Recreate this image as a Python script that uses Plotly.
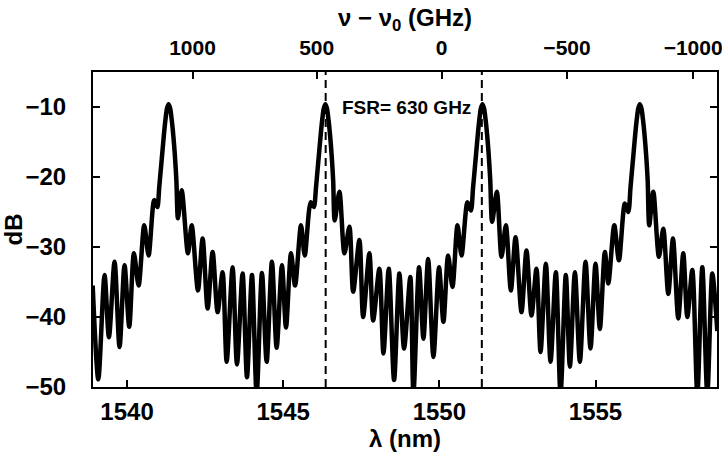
import plotly.graph_objects as go

# ---- data ----
LAMBDA_NM = [
    1538.90, 1539.08, 1539.28, 1539.42, 1539.60, 1539.76, 1539.92, 1540.07, 1540.22, 1540.37,
    1540.55, 1540.69, 1540.87, 1540.97,
    1541.03, 1541.08, 1541.13, 1541.18, 1541.23, 1541.28, 1541.33, 1541.38, 1541.43, 1541.48,
    1541.53, 1541.58, 1541.63,
    1541.75, 1541.95, 1542.07, 1542.27, 1542.42, 1542.58, 1542.74, 1542.90, 1543.06,
    1543.19, 1543.38, 1543.52, 1543.70, 1543.84, 1544.00, 1544.15, 1544.32, 1544.47, 1544.64,
    1544.79, 1544.96, 1545.09, 1545.25, 1545.38, 1545.57, 1545.69, 1545.88, 1545.98,
    1546.05, 1546.10, 1546.15, 1546.20, 1546.25, 1546.30, 1546.35, 1546.40, 1546.45, 1546.50,
    1546.55, 1546.60, 1546.65,
    1546.80, 1546.96, 1547.12, 1547.24, 1547.44, 1547.56, 1547.76, 1547.88, 1548.08,
    1548.21, 1548.38, 1548.55, 1548.72, 1548.87, 1549.07, 1549.17, 1549.35, 1549.49, 1549.64,
    1549.81, 1549.99, 1550.13, 1550.28, 1550.42, 1550.58, 1550.71, 1550.90, 1551.01,
    1551.08, 1551.13, 1551.18, 1551.23, 1551.28, 1551.33, 1551.38, 1551.43, 1551.48, 1551.53,
    1551.58, 1551.63, 1551.69,
    1551.84, 1551.99, 1552.13, 1552.29, 1552.44, 1552.63, 1552.79, 1552.95, 1553.11,
    1553.24, 1553.41, 1553.56, 1553.73, 1553.88, 1554.05, 1554.18, 1554.34, 1554.50, 1554.68,
    1554.84, 1555.00, 1555.14, 1555.30, 1555.41, 1555.60, 1555.75, 1555.94, 1556.05,
    1556.12, 1556.17, 1556.22, 1556.27, 1556.32, 1556.37, 1556.42, 1556.47, 1556.52, 1556.57,
    1556.62, 1556.67, 1556.72,
    1556.85, 1557.03, 1557.17, 1557.33, 1557.48, 1557.65, 1557.81, 1557.94, 1558.10,
    1558.26, 1558.42, 1558.58, 1558.74, 1558.90,
]
POWER_DB = [
    -35.5, -48.9, -34.0, -42.9, -32.1, -44.3, -32.6, -41.4, -30.9, -35.5,
    -26.9, -31.2, -23.3, -24.3,
    -21.5, -19.0, -16.5, -14.0, -11.8, -10.2, -9.6, -10.2, -11.8, -14.0,
    -16.8, -20.5, -25.9,
    -21.9, -30.9, -26.9, -36.2, -28.8, -38.8, -30.7, -39.3, -33.6,
    -46.4, -32.9, -46.8, -33.8, -48.6, -34.0, -51.0, -33.7, -46.4, -32.1,
    -44.4, -32.6, -41.5, -30.9, -35.5, -26.9, -31.2, -23.6, -24.3,
    -21.5, -19.0, -16.5, -14.0, -11.8, -10.2, -9.6, -10.2, -11.8, -14.0,
    -16.8, -20.5, -26.2,
    -22.1, -30.9, -27.1, -36.4, -29.0, -40.0, -30.9, -40.5, -33.1,
    -45.2, -33.1, -49.0, -33.8, -44.5, -34.3, -51.0, -32.9, -43.1, -31.7,
    -45.7, -32.9, -40.7, -31.2, -35.7, -26.9, -31.2, -23.6, -24.8,
    -21.5, -19.0, -16.5, -14.0, -11.8, -10.2, -9.6, -10.2, -11.8, -14.0,
    -16.8, -20.5, -26.4,
    -22.1, -31.4, -26.9, -36.2, -28.6, -39.3, -30.5, -39.8, -33.1,
    -45.0, -32.4, -46.4, -33.6, -51.0, -34.0, -47.1, -33.6, -46.4, -32.1,
    -44.5, -32.4, -41.7, -30.7, -35.2, -26.9, -31.9, -23.8, -25.0,
    -21.5, -19.0, -16.5, -14.0, -11.8, -10.2, -9.6, -10.2, -11.8, -14.0,
    -16.8, -20.5, -26.9,
    -22.1, -31.4, -27.4, -36.7, -28.8, -40.2, -30.9, -40.0, -33.3,
    -51.0, -32.9, -51.0, -33.8, -42.0,
]

X_TICKS = [1540, 1545, 1550, 1555]
Y_TICKS = [-10, -20, -30, -40, -50]
NU_TICKS_GHZ = [1000, 500, 0, -500, -1000]
NU_TICK_TEXT = ["1000", "500", "0", "\u2212500", "\u22121000"]
LAMBDA0_NM = 1550.07
FSR_MARKS_NM = [1546.36, 1551.36]
FSR_LABEL = "FSR= 630 GHz"
X_RANGE = [1538.91, 1558.89]
Y_RANGE = [-50, -5]

C_GHZ_NM = 299792.458e3  # speed of light in GHz*nm
nu0 = C_GHZ_NM / LAMBDA0_NM
nu_tick_lambda = [C_GHZ_NM / (nu0 + v) for v in NU_TICKS_GHZ]

FONT = "Liberation Sans, Arial, Helvetica, sans-serif"
fig = go.Figure()

fig.add_trace(go.Scatter(
    x=LAMBDA_NM, y=POWER_DB, mode="lines",
    line=dict(color="black", width=4.5, shape="spline", smoothing=0.8),
    hoverinfo="skip", showlegend=False, cliponaxis=True,
))
# invisible trace to attach the top (frequency) axis
fig.add_trace(go.Scatter(
    x=LAMBDA_NM, y=POWER_DB, xaxis="x2", mode="lines",
    line=dict(color="rgba(0,0,0,0)", width=0), hoverinfo="skip", showlegend=False,
))

for xm in FSR_MARKS_NM:
    fig.add_shape(type="line", xref="x", yref="paper", x0=xm, x1=xm, y0=0, y1=1,
                  line=dict(color="black", width=2, dash="8px,5px"))

fig.add_annotation(x=FSR_MARKS_NM[0] + 0.45, y=-10.0, xref="x", yref="y",
                   text=FSR_LABEL, showarrow=False, xanchor="left", yanchor="middle",
                   font=dict(family=FONT, size=19, color="black", weight="bold"))

tickfont = dict(family=FONT, size=24, color="black", weight="bold")
toptickfont = dict(family=FONT, size=21, color="black", weight="bold")
titlefont = dict(family=FONT, size=24, color="black", weight="bold")

fig.update_layout(
    width=722, height=452, autosize=False,
    margin=dict(l=93, r=5, t=72, b=65, autoexpand=False),
    paper_bgcolor="white", plot_bgcolor="white",
    xaxis=dict(range=X_RANGE, tickvals=X_TICKS, ticks="inside", ticklen=7, tickwidth=1.5,
               tickcolor="black", showline=True, linewidth=2, linecolor="black", mirror=True,
               showgrid=False, zeroline=False, tickfont=tickfont, ticklabelstandoff=2,
               automargin=False,
               title=dict(text="\u03bb (nm)", font=titlefont, standoff=0)),
    xaxis2=dict(range=X_RANGE, overlaying="x", side="top", tickvals=nu_tick_lambda,
                ticktext=NU_TICK_TEXT, ticks="inside", ticklen=7, tickwidth=1.5,
                tickcolor="black", showline=False, showgrid=False, zeroline=False,
                tickfont=toptickfont, ticklabelstandoff=12, ticklabeloverflow="allow",
                automargin=False,
                title=dict(text="\u03bd \u2212 \u03bd<sub>0</sub> (GHz)", font=titlefont, standoff=2)),
    yaxis=dict(range=Y_RANGE, tickvals=Y_TICKS, ticks="inside", ticklen=7, tickwidth=1.5,
               tickcolor="black", showline=True, linewidth=2, linecolor="black", mirror="ticks",
               showgrid=False, zeroline=False, tickfont=tickfont, ticklabelstandoff=20,
               automargin=False,
               title=dict(text="dB", font=titlefont, standoff=0)),
)

fig.write_html("out.html")
